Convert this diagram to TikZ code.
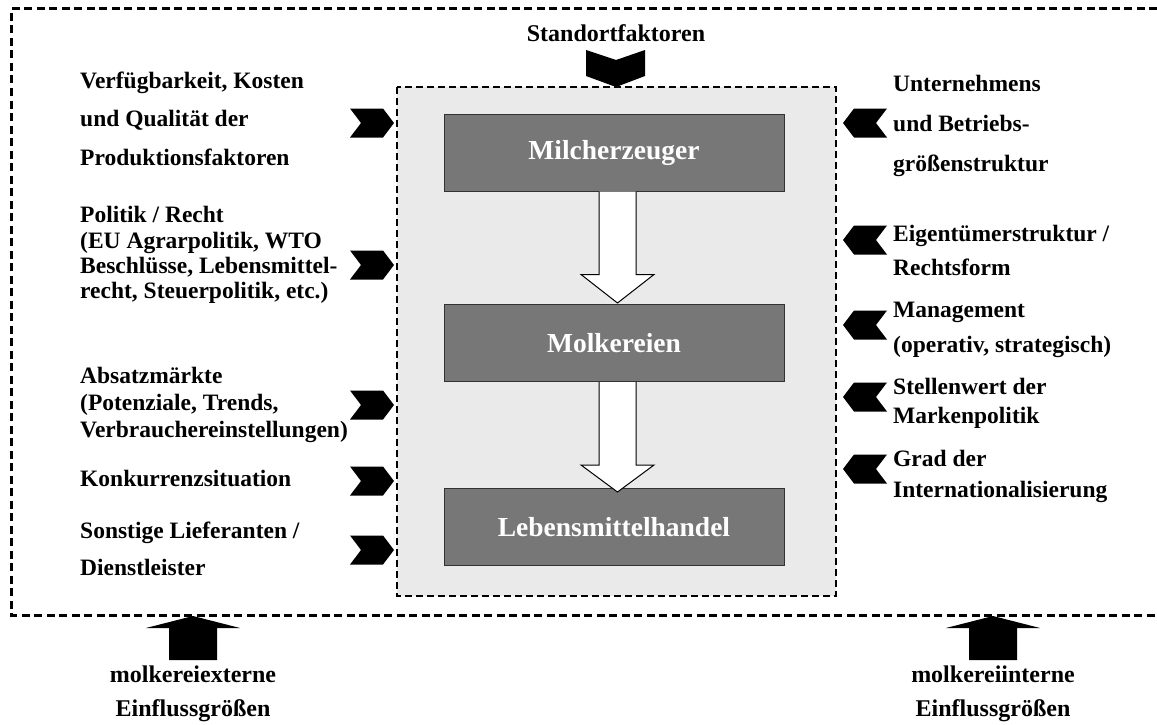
\documentclass[tikz,border=0pt]{standalone}
\usepackage{fontspec}
\setmainfont{Liberation Serif}
\usetikzlibrary{calc}
\definecolor{panelgray}{HTML}{EAEAEA}
\definecolor{boxgray}{HTML}{777777}
\definecolor{boxedge}{HTML}{333333}
\tikzset{
  x=1pt, y=-1pt,
  outerframe/.style={line width=3pt, dash pattern=on 8pt off 4.5pt},
  innerframe/.style={line width=2.4pt, dash pattern=on 7pt off 4pt, fill=panelgray},
  stage/.style={draw=boxedge, line width=1pt, fill=boxgray, minimum width=340pt,
                minimum height=77pt, inner sep=0pt, text=white,
                font=\bfseries\fontsize{27.5}{30}\selectfont},
  factor/.style={anchor=west, align=left, inner sep=0pt, font=\bfseries\fontsize{23.5}{#1}\selectfont},
  factor/.default=27,
  grouplabel/.style={align=center, inner sep=0pt, font=\bfseries\fontsize{24}{34}\selectfont},
  flowarrow/.style={draw=black, line width=1pt, fill=white, line join=miter},
  chevR/.pic={\fill (-22,-14.5) -- (11,-14.5) -- (22,0) -- (11,14.5) -- (-22,14.5) -- (-11,0) -- cycle;},
  chevL/.pic={\fill (22,-14.5) -- (-11,-14.5) -- (-22,0) -- (-11,14.5) -- (22,14.5) -- (11,0) -- cycle;},
  upblock/.pic={\fill (0,0) -- (47,12) -- (24,12) -- (24,44) -- (-24,44) -- (-24,12) -- (-47,12) -- cycle;}
}
\begin{document}
\begin{tikzpicture}
\useasboundingbox (0,0) rectangle (1157,725);

% outer frame, open to the right
\draw[outerframe] (1157,9) -- (11,9) -- (11,615) -- (1157,615);

% inner panel with the value chain
\draw[innerframe] (397,87) rectangle (836,596);

% title and downward marker
\node[font=\bfseries\fontsize{24}{27}\selectfont, inner sep=0pt] (title) at (616,33) {Standortfaktoren};
\fill (586,50) -- (616,60) -- (645,50) -- (645,76) -- (616,87) -- (586,76) -- cycle;

% stages
\node[stage] (milch) at (614,152.5) {Milcherzeuger};
\node[stage] (molk)  at (614,343)   {Molkereien};
\node[stage] (lmh)   at (614,527)   {Lebensmittelhandel};

% flow arrows between stages
\draw[flowarrow] ($(milch.south)+(-15,0)$) -- ($(milch.south)+(-15,83)$) -- ($(milch.south)+(-33,83)$)
  -- ($(molk.north)+(3.5,-1)$) -- ($(milch.south)+(40,83)$) -- ($(milch.south)+(22,83)$)
  -- ($(milch.south)+(22,0)$);
\draw[flowarrow] ($(molk.south)+(-15,0)$) -- ($(molk.south)+(-15,83)$) -- ($(molk.south)+(-33,83)$)
  -- ($(lmh.north)+(3.5,4)$) -- ($(molk.south)+(40,83)$) -- ($(molk.south)+(22,83)$)
  -- ($(molk.south)+(22,0)$);

% external factors (left)
\node[factor=38.5] (ext1) at (80,118.5) {Verfügbarkeit, Kosten\\und Qualität der\\Produktionsfaktoren};
\node[factor=25.3] (ext2) at (80,255) {Politik / Recht\\(EU Agrarpolitik, WTO\\Beschlüsse, Lebensmittel-\\recht, Steuerpolitik, etc.)};
\node[factor=27] (ext3) at (80,405) {Absatzmärkte\\(Potenziale, Trends,\\Verbrauchereinstellungen)};
\node[factor] (ext4) at (80,478) {Konkurrenzsituation};
\node[factor=37] (ext5) at (80,548.5) {Sonstige Lieferanten /\\Dienstleister};

\pic at (372,123) {chevR};
\pic at (372,265) {chevR};
\pic at (372,405) {chevR};
\pic at (372,481) {chevR};
\pic at (372,550) {chevR};

% internal factors (right)
\node[factor=40] (int1) at (893,126) {Unternehmens\\und Betriebs-\\größenstruktur};
\node[factor=34] (int2) at (893,250) {Eigentümerstruktur /\\Rechtsform};
\node[factor=35] (int3) at (893,329.5) {Management\\(operativ, strategisch)};
\node[factor=29] (int4) at (893,403.5) {Stellenwert der\\Markenpolitik};
\node[factor=31] (int5) at (893,476.5) {Grad der\\Internationalisierung};

\pic at (865,123) {chevL};
\pic at (865,240) {chevL};
\pic at (865,325) {chevL};
\pic at (865,397) {chevL};
\pic at (865,469) {chevL};

% groups of influence below the frame
\pic at (193,616) {upblock};
\pic at (993,616) {upblock};
\node[grouplabel] (extlbl) at (193,694) {molkereiexterne\\Einflussgrößen};
\node[grouplabel] (intlbl) at (993,694) {molkereiinterne\\Einflussgrößen};
\end{tikzpicture}
\end{document}
